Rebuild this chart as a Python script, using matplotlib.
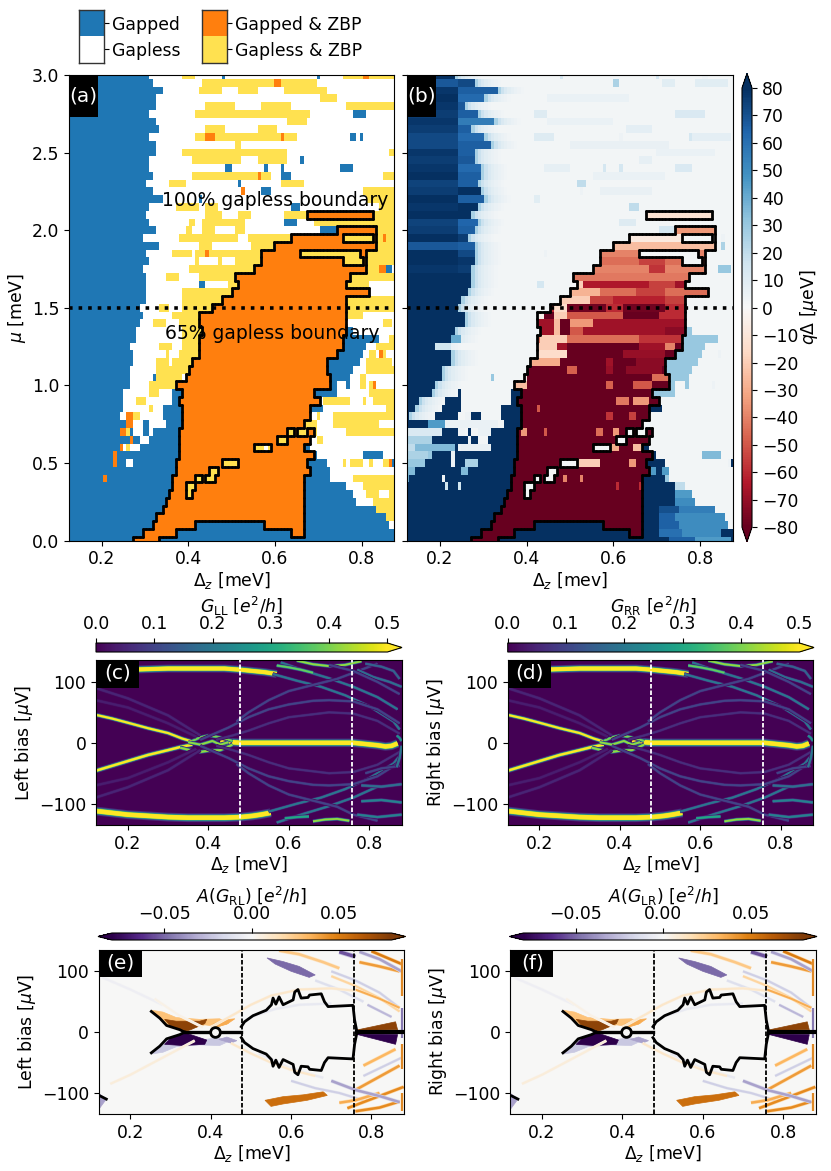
import numpy as np
import matplotlib
matplotlib.use("Agg")
import matplotlib.pyplot as plt
from matplotlib.colors import ListedColormap, Normalize
from matplotlib.cm import ScalarMappable
from matplotlib.collections import LineCollection
from matplotlib.patches import Rectangle

W, H = 831, 1171
COL_GAPPED, COL_GAPLESS, COL_ZBP, COL_GAPLESS_ZBP = '#1f77b4', '#ffffff', '#ff7f0e', '#ffe150'

DZ = np.linspace(0.125, 0.875, 100)
MU = 3 - 0.05 * np.arange(61)

# right edge of the gapped region, row by row from mu = 3 downwards
GAP_EDGE = [.312,.320,.343,.327,.324,.312,.327,.331,.312,.327,.327,.312,.312,.320,.304,.320,.343,.312,.304,.312,
            .327,.297,.335,.304,.312,.297,.304,.304,.304,.304,.289,.297,.285,.281,.281,.266,.273,.270,.266,.266,
            .266,.250,.250,.250,.243] + [.88]*16

# B strong gap, b weak gap, W gapless, Y gapless+ZBP, O gapped+ZBP in the main region, o stray gapped+ZBP
PHASE_RUNS = {
0:[('Y',.387,.418),('b',.477,.487),('b',.699,.706),('Y',.758,.88),('o',.804,.820)],
1:[('Y',.431,.699),('o',.600,.616)],
2:[('Y',.425,.477),('Y',.517,.562),('Y',.623,.722)],
3:[('Y',.706,.744)],
4:[('Y',.440,.508),('Y',.570,.639),('Y',.766,.88)],
5:[('Y',.418,.684),('b',.781,.812)],
6:[('Y',.631,.676)],
7:[('Y',.440,.487),('Y',.562,.608)],
8:[('Y',.418,.653),('o',.440,.463),('o',.616,.624),('b',.773,.789),('b',.797,.805)],
9:[('Y',.508,.524)],
10:[('Y',.387,.630),('Y',.866,.88)],
11:[('Y',.410,.524),('Y',.562,.630),('b',.660,.668)],
12:[('b',.487,.502),('b',.577,.585),('b',.616,.624),('b',.752,.781)],
13:[('Y',.410,.593),('o',.562,.570),('b',.616,.639),('Y',.850,.88)],
14:[('Y',.356,.395),('b',.517,.525),('Y',.616,.668)],
15:[('o',.525,.531),('b',.570,.593),('Y',.804,.88)],
16:[('b',.427,.435),('Y',.812,.88)],
17:[('Y',.372,.427),('Y',.443,.466),('b',.639,.660),('Y',.843,.88)],
18:[('Y',.440,.477),('Y',.517,.548),('Y',.623,.674),('O',.674,.826),('Y',.826,.88)],
19:[('Y',.403,.418),('Y',.432,.531),('b',.623,.653),('Y',.691,.88)],
20:[('Y',.395,.410),('Y',.432,.462),('Y',.504,.531),('b',.706,.743),('O',.743,.835),('Y',.835,.88)],
21:[('Y',.380,.517),('Y',.539,.637),('O',.637,.758),('Y',.758,.827),('O',.827,.835),('Y',.835,.850),('o',.850,.858),('Y',.858,.88)],
22:[('Y',.425,.456),('Y',.547,.600),('O',.600,.835),('Y',.835,.88)],
23:[('Y',.364,.410),('Y',.418,.440),('o',.440,.448),('Y',.448,.570),('O',.570,.662),('Y',.662,.797),('O',.797,.812),('Y',.812,.88)],
24:[('Y',.418,.425),('Y',.470,.477),('Y',.508,.570),('O',.570,.758),('Y',.758,.805),('O',.805,.812),('Y',.812,.88)],
25:[('Y',.402,.556),('O',.556,.812),('Y',.812,.843),('o',.843,.858),('b',.858,.875)],
26:[('Y',.349,.380),('Y',.425,.508),('O',.508,.773),('Y',.773,.88)],
27:[('b',.425,.440),('Y',.493,.516),('O',.516,.766),('Y',.766,.820)],
28:[('Y',.387,.501),('O',.501,.820)],
29:[('Y',.387,.477),('O',.477,.762),('Y',.762,.88)],
30:[('Y',.335,.354),('Y',.389,.458),('O',.458,.762),('Y',.762,.88)],
31:[('Y',.366,.425),('O',.425,.762),('Y',.762,.80)],
32:[('Y',.320,.350),('Y',.382,.425),('O',.425,.762),('Y',.85,.87)],
33:[('Y',.389,.435),('O',.435,.762),('b',.762,.782)],
34:[('Y',.385,.427),('O',.427,.758),('b',.758,.842),('Y',.866,.88)],
35:[('Y',.335,.366),('Y',.385,.425),('O',.425,.758),('b',.758,.812),('Y',.835,.88)],
36:[('Y',.350,.358),('Y',.381,.425),('O',.425,.743),('b',.743,.805),('Y',.820,.835),('o',.843,.851),('Y',.851,.858)],
37:[('Y',.327,.358),('Y',.366,.412),('O',.412,.723),('b',.723,.797),('Y',.812,.875)],
38:[('Y',.327,.404),('O',.404,.723),('b',.723,.781),('Y',.812,.88)],
39:[('b',.320,.327),('Y',.327,.39),('O',.392,.727),('b',.727,.77),('Y',.797,.812)],
40:[('Y',.312,.370),('O',.373,.727),('b',.727,.743),('b',.766,.773),('Y',.797,.812),('Y',.82,.828),('o',.828,.836)],
41:[('Y',.312,.33),('B',.366,.386),('O',.386,.693),('b',.693,.743),('Y',.82,.88)],
42:[('Y',.281,.305),('B',.366,.382),('O',.382,.704),('Y',.712,.773),('Y',.805,.812),('Y',.828,.88)],
43:[('Y',.312,.320),('B',.343,.39),('O',.39,.681),('B',.685,.712),('Y',.858,.88)],
44:[('o',.258,.273),('Y',.273,.289),('B',.343,.385),('O',.385,.681),('Y',.697,.705),('Y',.735,.88)],
45:[('o',.258,.273),('W',.273,.297),('W',.312,.35),('O',.385,.670),('Y',.670,.697),('W',.697,.735),('Y',.735,.843),('W',.843,.88)],
46:[('o',.243,.258),('Y',.258,.266),('W',.273,.297),('W',.312,.32),('O',.381,.627),('Y',.627,.645),('O',.645,.654),('Y',.654,.678),('O',.678,.686),('Y',.686,.70),('W',.70,.766),('Y',.766,.88)],
47:[('o',.266,.273),('W',.289,.312),('O',.381,.604),('Y',.604,.627),('O',.627,.681),('W',.685,.70),('Y',.70,.712),('W',.712,.88)],
48:[('o',.243,.25),('W',.25,.258),('Y',.258,.266),('W',.266,.289),('O',.381,.554),('Y',.554,.593),('W',.578,.585),('O',.593,.670),('W',.685,.88)],
49:[('o',.228,.235),('O',.377,.693),('W',.697,.805),('W',.85,.88)],
50:[('o',.228,.235),('W',.258,.273),('O',.373,.477),('Y',.477,.516),('O',.516,.677),('W',.72,.758),('Y',.758,.766),('W',.766,.773),('Y',.773,.805),('W',.805,.82),('Y',.82,.828),('W',.828,.85),('Y',.85,.866),('o',.866,.873)],
51:[('O',.37,.45),('Y',.45,.47),('O',.47,.681),('W',.727,.88)],
52:[('o',.204,.212),('O',.366,.416),('Y',.416,.431),('O',.431,.439),('Y',.44,.462),('O',.462,.670),('W',.727,.781),('Y',.781,.88)],
53:[('O',.364,.394),('Y',.394,.416),('O',.416,.670),('W',.766,.805),('Y',.805,.88)],
54:[('O',.358,.394),('Y',.394,.412),('O',.412,.670),('W',.781,.812),('Y',.812,.843),('W',.843,.866),('Y',.866,.88)],
55:[('O',.35,.670),('W',.789,.828),('Y',.828,.88)],
56:[('O',.343,.670),('Y',.835,.88)],
57:[('O',.327,.670),('Y',.858,.88)],
58:[('O',.32,.416),('O',.577,.670),('W',.866,.88)],
59:[('O',.296,.371),('O',.635,.670)],
60:[('O',.273,.335)],
}

# panel (b): where the strong positive charge stops, and tones of the left part / right part of it
Q_END = [.238,.281,.331,.304,.258,.288,.323,.273,.30,.315,.277,.281,.292,.292,.286,.296,.30,.286,.273,.285,
         .281,.265,.281,.281,.281,.273,.269,.273,.265,.25,.246,.258,.254,.235,.227,.188,.231,.227,.208,.204,
         .192,.181,.150,.146,.127]
Q_LEFT = [80,68,78,82,78,76,78,76,72,72,78,76,78,82,74,76,82,78,82,74,76,84,68,82,84,78,85,85,85] + [85]*16
Q_RIGHT = [76,72,66,62,68,66,56,66,62,66,66,68,62,66,66,82,66,82,82,64,66,76,66,72,78,76,82,84,84] + [85]*16
Q_FADE = [26,17,12,9,7,5,4,3]
Q_WEAK_GAP, Q_WEAK_GAP_LOW, Q_STRONG_GAP, Q_GAPLESS, Q_STRAY = 14, 30, 85, 2, 4

# (row, q, from, to) for the gapped / gapless cells
Q_GAP_RUNS = [(44,85,.273,.296),(45,45,.173,.212),(45,5,.212,.331),(46,12,.125,.204),(46,5,.288,.319),
 (47,25,.125,.18),(48,20,.125,.146),(48,35,.146,.235),(48,6,.25,.315),(49,25,.125,.173),(49,30,.173,.181),
 (50,30,.125,.165),(50,25,.258,.288),(51,35,.125,.142),(51,35,.25,.262),(52,40,.125,.132),(53,15,.212,.22),(53,15,.245,.25),
 (52,30,.72,.727),(53,20,.746,.766),(54,45,.745,.781),(55,50,.746,.789),(56,70,.703,.75),(56,55,.75,.835),
 (57,65,.703,.74),(57,50,.74,.858),(58,65,.703,.75),(58,50,.75,.866),(59,60,.703,.76),(59,50,.76,.85),(60,65,.73,.79),(60,45,.79,.87),
 (51,45,.681,.70),(51,45,.71,.727),(35,15,.188,.231),(34,40,.227,.25),(49,35,.805,.85),
 (1,25,.600,.615),(1,9,.715,.745),(1,9,.79,.865),(3,5,.446,.638),(5,10,.415,.446),(5,12,.746,.812),(7,8,.631,.692),
 (8,10,.415,.46),(8,8,.777,.869),(11,7,.658,.692),(12,7,.442,.5),(12,12,.746,.781),(14,20,.515,.538),(16,9,.415,.431),
 (17,20,.638,.658),(19,10,.615,.65),(22,25,.85,.855),(25,30,.842,.869),(9,6,.50,.73),(13,5,.55,.72),(15,6,.57,.69),(6,5,.45,.60),(10,5,.70,.83)]
# (row, q, from, to) for the gapped + ZBP cells, later entries win
Q_ZBP_RUNS = [(18,-12,0,1),(20,-35,0,1),(21,-8,0,1),(22,-25,0,1),(23,-40,0,1),(24,-45,0,1),(24,-55,.66,.72),(25,-40,0,1),(25,-58,.68,.72),
 (26,-42,0,1),(27,-55,0,1),(27,-65,.53,.685),(27,-20,.515,.531),(27,-68,.74,.762),(28,-45,0,1),(28,-28,.49,.569),(28,-55,.65,.72),
 (29,-55,0,1),(29,-20,.46,.546),(29,-62,.6,.72),(30,-60,0,1),(30,-15,.46,.492),(30,-78,.492,.585),(30,-78,.62,.72),
 (31,-60,0,1),(31,-5,.423,.438),(31,-85,.438,.46),(31,-20,.46,.492),(31,-50,.492,.623),(31,-85,.623,.704),
 (32,-68,0,1),(32,-25,.46,.477),(32,-85,.477,.5),(32,-35,.5,.55),(33,-68,0,1),(33,-25,.46,.477),(33,-85,.477,.5),(33,-50,.5,.53),(33,-72,.72,.77),
 (34,-45,0,1),(34,-20,.43,.492),(34,-58,.66,.77),(35,-85,0,1),(35,-20,.42,.469),(35,-68,.469,.492),(35,-68,.66,.723),(35,-40,.723,.74),
 (36,-85,0,1),(36,-15,.42,.492),(36,-70,.62,.72),(37,-85,0,1),(37,-30,.41,.477),(37,-68,.58,.60),(37,-72,.65,.72),
 (38,-85,0,1),(38,-48,.49,.515),(38,-70,.58,.60),(38,-72,.63,.715),(39,-8,.385,.405),(39,-45,.688,.727),
 (40,-25,.37,.4),(40,-48,.585,.6),(40,-50,.644,.688),(42,-42,.608,.638),(42,-35,.644,.685),(43,-50,.423,.43),
 (44,-58,.585,.6),(44,-55,.636,.65),(46,-35,.385,.4),(46,-50,.438,.446),(46,-45,.562,.577),(46,-35,.6,.615),
 (48,-30,.592,.612),(48,-25,.645,.665),(50,-20,.515,.57),(50,-35,.635,.65),(52,-40,.485,.492),(52,-40,.523,.531),
 (53,-60,.608,.615),(53,-60,.66,.665)]

# conductance ridges of panels (c), (d): x in meV, y in ueV, peak in e2/h, width in points
RIDGES = [
 ([.12,.16,.2,.25,.3,.35,.4,.44,.48,.51,.54,.57],[116,118,120,121,122,122,122,122,120,118,116,113],.65,2.6),
 ([.12,.16,.2,.25,.3,.35,.4,.44,.48,.51,.53,.555],[-112,-115,-118,-120,-122,-123,-123,-123,-122,-120,-118,-115],.65,2.9),
 ([.12,.16,.2,.25,.3,.335,.36],[46,40,33,24,16,7,2],.5,1.5),
 ([.12,.16,.2,.25,.3,.33,.36],[-46,-38,-30,-20,-12,-7,-3],.5,1.7),
 ([.43,.46,.48,.55,.62,.7,.76,.79,.82,.84,.855,.87],[1,1,0,0,0,0,0,-2,-4,-6,-5,-1],.65,2.8),
 ([.36,.38,.40,.42,.44,.46],[3,9,12,10,7,3],.4,1.3),
 ([.33,.36,.38,.40,.43,.46],[-8,-13,-15,-13,-12,-3],.42,1.4),
 ([.35,.38,.41,.43,.45],[1,-3,3,-3,1],.42,1.3),
 ([.56,.62,.68,.74,.80,.86,.875],[113,102,92,78,60,35,22],.2,1.2),
 ([.58,.64,.70,.76,.82,.87],[132,118,106,92,75,55],.2,1.2),
 ([.62,.66,.70,.74,.78],[135,129,126,128,134],.42,1.3),
 ([.57,.60,.63,.66],[127,124,120,115],.38,1.3),
 ([.38,.45,.5,.55,.6,.66,.7,.76,.82,.875],[5,25,42,55,63,69,70,68,55,32],.1,1.2),
 ([.47,.5,.55,.6,.66,.72,.78,.82],[35,50,70,85,95,105,120,130],.1,1.2),
 ([.42,.46,.5,.55,.6,.7,.76,.82,.875],[5,12,20,32,42,50,48,36,15],.065,1.2),
 ([.12,.2,.3,.38],[90,73,45,12],.05,1.4),
 ([.12,.2,.3,.37],[70,58,32,10],.04,1.4),
 ([.77,.81,.85,.88],[120,108,100,92],.18,1.2),
 ([.70,.76,.82,.875],[128,118,100,80],.1,1.2),
 ([.79,.83,.86,.875],[130,125,118,105],.16,1.2),
 ([.55,.62,.68,.74,.80,.86,.875],[-113,-100,-90,-76,-58,-34,-22],.2,1.2),
 ([.57,.64,.70,.76,.82],[-131,-116,-104,-90,-72],.2,1.2),
 ([.66,.69,.72,.75],[-129,-126,-125,-128],.42,1.3),
 ([.59,.62,.65],[-124,-122,-121],.3,1.3),
 ([.38,.45,.5,.55,.6,.66,.7,.76,.82,.875],[-5,-25,-42,-55,-63,-69,-70,-68,-55,-32],.1,1.2),
 ([.47,.5,.55,.6,.66,.72,.76,.82],[-35,-50,-70,-85,-95,-105,-118,-128],.1,1.2),
 ([.42,.46,.5,.55,.6,.7,.76,.82,.875],[-5,-12,-20,-32,-42,-50,-48,-36,-15],.065,1.2),
 ([.12,.2,.3,.38],[-90,-73,-45,-12],.05,1.4),
 ([.12,.2,.3,.37],[-70,-58,-32,-10],.04,1.4),
 ([.78,.83,.88],[-70,-72,-68],.18,1.3),
 ([.78,.83,.88],[-96,-94,-98],.22,1.3),
 ([.77,.82,.88],[-118,-122,-118],.22,1.3),
 ([.79,.83,.875],[-50,-42,-38],.1,1.2),
 ([.868,.875,.88],[-40,-25,-5],.2,1.2),
 ([.868,.875,.88],[12,8,3],.25,1.2),
]

# antisymmetric part of panels (e), (f): filled lobes and thin streaks
A_LOBES = [
 ([.252,.281,.314,.372,.422,.445,.42,.385,.33,.29,.26],[36,33,24,21,22,15,9,12,2,12,30],.028),
 ([.285,.314,.372,.39,.385,.35,.335,.30],[21,18,18,21,14,4,1,10],.075),
 ([.405,.43,.46,.44,.41],[13,20,22,13,8],.035),
 ([.252,.281,.314,.372,.422,.445,.42,.385,.33,.29,.26],[-36,-33,-24,-21,-22,-15,-9,-12,-2,-12,-30],-.022),
 ([.285,.33,.385,.39,.35,.335,.30],[-20,-22,-20,-13,-4,-1,-10],-.085),
 ([.42,.45,.465,.44],[-12,-18,-14,-8],-.035),
 ([.76,.86,.865],[3,17,4],.075),
 ([.76,.86,.865],[-3,-20,-4],-.085),
 ([.12,.14,.12],[-100,-110,-128],-.035),
 ([.54,.58,.62,.66,.645,.60,.56],[122,116,108,94,90,100,112],-.05),
 ([.535,.58,.63,.68,.69,.64,.58,.55],[-112,-106,-103,-98,-104,-112,-118,-122],.055),
]
A_STREAKS = [
 ([.57,.62,.68,.72],[134,128,115,105],.025,1.8),
 ([.72,.76],[132,124],-.055,2.4),
 ([.77,.82,.87],[115,108,100],.04,1.8),
 ([.77,.82,.875],[132,120,100],-.035,1.8),
 ([.80,.875],[133,112],.05,1.8),
 ([.66,.72,.78],[85,70,50],-.013,1.4),
 ([.70,.76,.82,.87],[100,85,65,40],-.02,1.4),
 ([.70,.76,.82,.87],[92,76,56,34],.02,1.4),
 ([.76,.82,.87],[70,55,40],.035,1.4),
 ([.79,.85],[45,25],-.028,1.4),
 ([.40,.46,.5,.55,.62,.7,.76],[8,30,45,60,70,72,68],.011,1.4),
 ([.5,.56,.62,.7],[25,38,45,47],-.008,1.4),
 ([.13,.2,.28],[90,70,45],-.005,1.4),
 ([.15,.2,.28,.36],[-85,-70,-42,-14],.007,1.4),
 ([.26,.32,.38],[55,28,8],.004,1.4),
 ([.52,.6,.68],[-35,-60,-75],-.008,1.4),
 ([.45,.5,.55,.6,.66],[-18,-35,-50,-62,-72],.011,1.4),
 ([.6,.66,.72,.78],[-80,-92,-100,-112],-.02,1.4),
 ([.78,.86],[-55,-28],.032,1.8),
 ([.76,.87],[-95,-55],.04,1.8),
 ([.74,.88],[-125,-90],.045,1.8),
 ([.72,.76,.82],[-116,-112,-100],.035,1.8),
 ([.76,.82,.87],[-130,-124,-114],.045,1.8),
 ([.70,.76,.82,.87],[-80,-95,-105,-115],-.035,1.8),
 ([.78,.875],[-72,-42],-.02,1.4),
 ([.875,.875],[120,60],.05,1.2),
 ([.875,.875],[40,-10],-.05,1.2),
 ([.875,.875],[-20,-60],.05,1.2),
 ([.875,.875],[-100,-130],.05,1.2),
]
ENVELOPE_X = [.476,.484,.505,.538,.551,.555,.562,.57,.58,.605,.609,.617,.625,.642,.646,.675,.683,.692,.754,.758,.764]
ENVELOPE_Y = [9,17,27,36,45,56,46,58,45,53,66,70,56,57,61,63,50,42,44,20,0]
LEFT_ARC_X = [.252,.273,.29,.323,.335]
LEFT_ARC_Y = [34,23,11,4,0]
BAND_X = [.125,.14]
BAND_Y = [-105,-110]
DASH_X = [.478,.757]
ZERO_MODE_X = .41

CB_G = [0,.1,.2,.3,.4,.5]
CB_A = [-.05,0,.05]
CB_Q = list(range(-80,90,10))


def add_ax(x0, x1, y0, y1):
    return fig.add_axes([x0/W, 1-y1/H, (x1-x0)/W, (y1-y0)/H])


def tag(ax, s, w, h, tx, ty):
    ax.add_patch(Rectangle((0, 1-h), w, h, transform=ax.transAxes, fc='k', ec='none', zorder=8))
    ax.text(tx, ty, s, transform=ax.transAxes, color='w', fontsize=14.5, ha='center', va='center', zorder=9)


plt.rcParams.update({'font.size': 12.4, 'font.family': 'DejaVu Sans', 'mathtext.fontset': 'dejavusans',
                     'axes.linewidth': 0.8})
fig = plt.figure(figsize=(W/100, H/100), dpi=100)
DASH = (0, (2.5, 1.1))

# ---- grids ----
phase = np.full((61, 100), 'W', dtype='<U1')
for i, e in enumerate(GAP_EDGE):
    phase[i, DZ < e] = 'B'
    for c, a, b in PHASE_RUNS.get(i, []):
        phase[i, (DZ >= a) & (DZ < b)] = c
code = {'B': 0, 'b': 0, 'W': 1, 'O': 2, 'o': 2, 'Y': 3}
cat = np.vectorize(code.get)(phase)
mask = phase == 'O'

q = np.full((61, 100), float(Q_GAPLESS))
q[phase == 'B'] = Q_STRONG_GAP
q[phase == 'b'] = Q_WEAK_GAP
q[30:][phase[30:] == 'b'] = Q_WEAK_GAP_LOW
q[phase == 'O'] = -85
q[phase == 'o'] = Q_STRAY
for i, e in enumerate(Q_END):
    left = DZ < .24
    q[i, (DZ < e)] = Q_RIGHT[i]
    q[i, (DZ < e) & left] = Q_LEFT[i]
    after = np.where((DZ >= e) & ((phase[i] == 'W') | (phase[i] == 'B') | (phase[i] == 'Y')))[0]
    for k, v in zip(after, Q_FADE):
        q[i, k] = v
    tail = after[len(Q_FADE):]
    q[i, tail[phase[i, tail] == 'B']] = Q_GAPLESS if i < 41 else 85
# keep the strong blue next to the ZBP region in rows where it is gapped
for i, a, b in [(41,.366,.386),(42,.366,.382),(43,.343,.39),(44,.343,.385),(43,.685,.712)]:
    q[i, (DZ >= a) & (DZ < b)] = 85
for i, v, a, b in Q_GAP_RUNS:
    q[i, (DZ >= a) & (DZ < b) & (phase[i] != 'O')] = v
for i, v, a, b in Q_ZBP_RUNS:
    q[i, (DZ >= a) & (DZ < b) & (phase[i] == 'O')] = v

# outline of the gapped + ZBP region
dx, dy = DZ[1]-DZ[0], .05
segs = []
for i in range(61):
    for j in range(100):
        if not mask[i, j]:
            continue
        x0, x1, y0, y1 = DZ[j]-dx/2, DZ[j]+dx/2, MU[i]-dy/2, MU[i]+dy/2
        if i == 0 or not mask[i-1, j]:
            segs.append([(x0, y1), (x1, y1)])
        if i < 60 and not mask[i+1, j]:
            segs.append([(x0, y0), (x1, y0)])
        if j == 0 or not mask[i, j-1]:
            segs.append([(x0, y0), (x0, y1)])
        if j == 99 or not mask[i, j+1]:
            segs.append([(x1, y0), (x1, y1)])

# ---- (a) ----
axa = add_ax(69, 394, 75, 540.5)
cm4 = ListedColormap([COL_GAPPED, COL_GAPLESS, COL_ZBP, COL_GAPLESS_ZBP])
axa.pcolormesh(DZ, MU, cat, cmap=cm4, vmin=-.5, vmax=3.5, shading='nearest')
axa.add_collection(LineCollection(segs, colors='k', linewidths=2, capstyle='round', zorder=4))
axa.axhline(1.5, color='k', ls=':', lw=2.6, zorder=5)
axa.set_xlim(.125, .875); axa.set_ylim(0, 3)
axa.set_xticks([.2,.4,.6,.8]); axa.set_yticks([0,.5,1,1.5,2,2.5,3])
axa.set_xlabel(r'$\Delta_z$ [meV]', labelpad=1); axa.set_ylabel(r'$\mu$ [meV]', labelpad=3)
axa.text(.6, 2.19, '100% gapless boundary', ha='center', va='center', fontsize=13.5, zorder=6)
axa.text(.593, 1.335, '65% gapless boundary', ha='center', va='center', fontsize=13.5, zorder=6)
tag(axa, '(a)', .0885, .091, .044, .955)

# ---- (b) ----
axb = add_ax(407, 733, 75, 540.5)
normq = Normalize(-80, 80)
axb.pcolormesh(DZ, MU, q, cmap='RdBu', norm=normq, shading='nearest')
axb.add_collection(LineCollection(segs, colors='k', linewidths=2, capstyle='round', zorder=4))
axb.axhline(1.5, color='k', ls=':', lw=2.6, zorder=5)
axb.set_xlim(.125, .875); axb.set_ylim(0, 3)
axb.set_xticks([.2,.4,.6,.8]); axb.set_yticks([0,.5,1,1.5,2,2.5,3]); axb.set_yticklabels([])
axb.set_xlabel(r'$\Delta_z$ [mev]', labelpad=1)
tag(axb, '(b)', .0885, .091, .044, .955)
caxq = add_ax(742, 752, 73.5, 541.7)
cbq = fig.colorbar(ScalarMappable(normq, 'RdBu'), cax=caxq, extend='both', extendfrac=.033, ticks=CB_Q)
cbq.set_label(r'$q\Delta$ [$\mu$eV]', labelpad=0)

# ---- legend swatches ----
for x0, cols, labs in [(79, [COL_GAPLESS, COL_GAPPED], ['Gapless', 'Gapped']),
                       (202, [COL_GAPLESS_ZBP, COL_ZBP], ['Gapless & ZBP', 'Gapped & ZBP'])]:
    lg = add_ax(x0, x0+25, 9.5, 62.5)
    lg.pcolormesh([[0], [1]], cmap=ListedColormap(cols), vmin=0, vmax=1)
    lg.set_xticks([]); lg.set_yticks([.5, 1.5]); lg.set_yticklabels(labs)
    lg.yaxis.tick_right()
    lg.tick_params(axis='y', length=3.5, pad=2.5)
    for s in lg.spines.values():
        s.set_linewidth(1.0); s.set_color('#333333')

# ---- (c), (d) ----
normg = Normalize(0, .5)
vir = plt.get_cmap('viridis')
for (x0, x1, cb0, cb1, lab, clab, name) in [
        (96, 402, 96, 402, 'Left bias [$\\mu$V]', r'$G_{\mathrm{LL}}$ [$e^2/h$]', '(c)'),
        (507.7, 813.3, 507.7, 814, 'Right bias [$\\mu$V]', r'$G_{\mathrm{RR}}$ [$e^2/h$]', '(d)')]:
    ax = add_ax(x0, x1, 660, 825)
    ax.set_facecolor(vir(0.0))
    for xs, ys, amp, lw in RIDGES:
        for k, f in [(2.2, .10), (1.75, .25), (1.4, .5), (1.15, .75), (1.0, 1.0)]:
            ax.plot(xs, ys, color=vir(normg(amp*f)), lw=lw*k, solid_capstyle='butt', solid_joinstyle='round')
    for xv in DASH_X:
        ax.axvline(xv, color='w', ls=DASH, lw=1.3, zorder=5)
    ax.set_xlim(.121, .881); ax.set_ylim(-135, 136)
    ax.set_xticks([.2,.4,.6,.8]); ax.set_yticks([-100,0,100])
    ax.set_xlabel(r'$\Delta_z$ [meV]', labelpad=1); ax.set_ylabel(lab, labelpad=3)
    tag(ax, name, .141, .168, .072, .92)
    cax = add_ax(cb0, cb1, 643, 652)
    cb = fig.colorbar(ScalarMappable(normg, 'viridis'), cax=cax, orientation='horizontal', extend='max', ticks=CB_G)
    cax.xaxis.set_ticks_position('top'); cax.xaxis.set_label_position('top')
    cb.set_label(clab, labelpad=2)

# ---- (e), (f) ----
norma = Normalize(-.08, .08)
puor = plt.get_cmap('PuOr_r')
for (x0, x1, cb0, cb1, lab, clab, name) in [
        (98.7, 404, 98, 405.5, 'Left bias [$\\mu$V]', r'$A(G_{\mathrm{RL}})$ [$e^2/h$]', '(e)'),
        (510.3, 815.7, 509.5, 817, 'Right bias [$\\mu$V]', r'$A(G_{\mathrm{LR}})$ [$e^2/h$]', '(f)')]:
    ax = add_ax(x0, x1, 950, 1114.3)
    ax.set_facecolor(puor(.5))
    for xs, ys, v, lw in A_STREAKS:
        ax.plot(xs, ys, color=puor(norma(v*.45)), lw=lw*1.5, solid_capstyle='butt')
        ax.plot(xs, ys, color=puor(norma(v)), lw=lw, solid_capstyle='butt')
    for xs, ys, v in A_LOBES:
        ax.fill(xs, ys, color=puor(norma(v)), lw=.5)
    ex, ey = np.array(ENVELOPE_X), np.array(ENVELOPE_Y)
    lx, ly = np.array(LEFT_ARC_X), np.array(LEFT_ARC_Y)
    for sgn in (1, -1):
        ax.plot(ex, sgn*ey, color='k', lw=2, zorder=6, solid_joinstyle='round')
        ax.plot(lx, sgn*ly, color='k', lw=2, zorder=6)
    ax.plot([.335, .402], [0, 0], color='k', lw=2.4, zorder=6)
    ax.plot([.418, .476], [0, 0], color='k', lw=2.4, zorder=6)
    ax.plot([.764, .885], [0, 0], color='k', lw=3, zorder=6)
    ax.plot([ZERO_MODE_X], [0], marker='o', ms=7, mfc=puor(.5), mec='k', mew=2, zorder=6)
    ax.plot(BAND_X, BAND_Y, color='k', lw=2, zorder=6)
    for xv in DASH_X:
        ax.axvline(xv, color='k', ls=DASH, lw=1.3, zorder=5)
    ax.set_xlim(.121, .881); ax.set_ylim(-135, 135)
    ax.set_xticks([.2,.4,.6,.8]); ax.set_yticks([-100,0,100])
    ax.set_xlabel(r'$\Delta_z$ [meV]', labelpad=1); ax.set_ylabel(lab, labelpad=3)
    tag(ax, name, .141, .165, .072, .92)
    cax = add_ax(cb0, cb1, 933, 940)
    cb = fig.colorbar(ScalarMappable(norma, 'PuOr_r'), cax=cax, orientation='horizontal', extend='both', ticks=CB_A)
    cax.xaxis.set_ticks_position('top'); cax.xaxis.set_label_position('top')
    cax.set_xticklabels(['\u22120.05', '0.00', '0.05'])
    cb.set_label(clab, labelpad=2)

fig.savefig('out.png', dpi=100)
